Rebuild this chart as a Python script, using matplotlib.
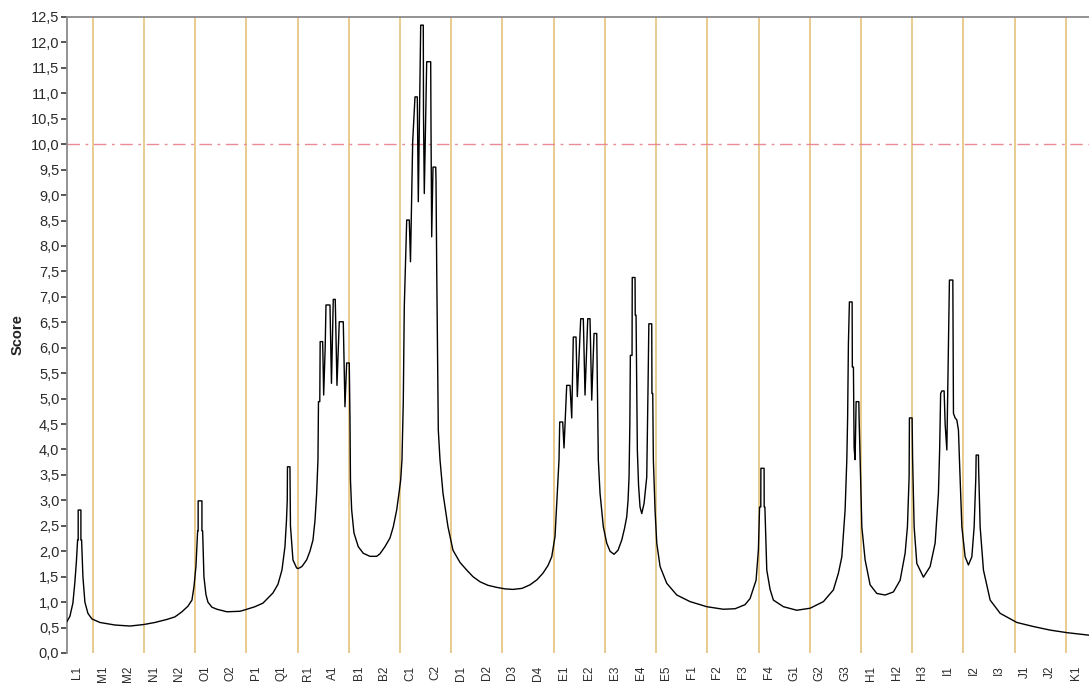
import matplotlib
matplotlib.use('Agg')
import matplotlib.pyplot as plt
import matplotlib.transforms as mtransforms
import numpy as np

# category labels along the x axis (one per unit)
categories = ['L1', 'M1', 'M2', 'N1', 'N2', 'O1', 'O2', 'P1', 'Q1', 'R1',
              'A1', 'B1', 'B2', 'C1', 'C2', 'D1', 'D2', 'D3', 'D4', 'E1',
              'E2', 'E3', 'E4', 'E5', 'F1', 'F2', 'F3', 'F4', 'G1', 'G2',
              'G3', 'H1', 'H2', 'H3', 'I1', 'I2', 'I3', 'J1', 'J2', 'K1']

# categories marked with a tick and a vertical guide line
marked = ['M1', 'N1', 'O1', 'P1', 'R1', 'B1', 'C1', 'D1', 'D3', 'E1',
          'E3', 'E5', 'F2', 'F4', 'G2', 'H1', 'H3', 'I2', 'J1', 'K1']

threshold = 10.0

# score profile (position in category units, score)
pos = [0.000, 0.113, 0.230, 0.309, 0.367, 0.414, 0.437, 0.437, 0.543, 0.543,
       0.570, 0.621, 0.699, 0.816, 0.972, 1.285, 1.871, 2.457, 3.004, 3.433,
       3.902, 4.214, 4.487, 4.722, 4.878, 4.956, 5.034, 5.100, 5.120, 5.120,
       5.268, 5.268, 5.295, 5.346, 5.424, 5.502, 5.659, 5.854, 6.244, 6.752,
       7.025, 7.337, 7.650, 8.040, 8.236, 8.392, 8.509, 8.568, 8.599, 8.607,
       8.704, 8.724, 8.821, 8.966, 9.028, 9.173, 9.356, 9.485, 9.603, 9.681,
       9.747, 9.798, 9.818, 9.869, 9.884, 9.981, 10.021, 10.079, 10.111, 10.267,
       10.325, 10.396, 10.473, 10.540, 10.630, 10.786, 10.852, 10.918, 11.020, 11.047,
       11.067, 11.114, 11.203, 11.371, 11.567, 11.828, 12.090, 12.219, 12.414, 12.609,
       12.738, 12.871, 12.961, 13.027, 13.078, 13.129, 13.168, 13.234, 13.262, 13.363,
       13.410, 13.496, 13.586, 13.676, 13.715, 13.809, 13.910, 13.918, 13.949, 14.043,
       14.199, 14.211, 14.238, 14.289, 14.395, 14.406, 14.434, 14.496, 14.562, 14.679,
       14.874, 15.069, 15.343, 15.605, 15.850, 16.124, 16.436, 16.776, 17.100, 17.413,
       17.764, 18.076, 18.350, 18.584, 18.779, 18.924, 19.053, 19.142, 19.209, 19.236,
       19.353, 19.404, 19.509, 19.638, 19.705, 19.767, 19.873, 19.923, 20.056, 20.158,
       20.224, 20.330, 20.419, 20.486, 20.576, 20.681, 20.743, 20.810, 20.939, 21.072,
       21.201, 21.357, 21.513, 21.658, 21.767, 21.853, 21.904, 21.943, 21.974, 21.994,
       22.060, 22.068, 22.177, 22.185, 22.216, 22.243, 22.267, 22.314, 22.372, 22.439,
       22.529, 22.634, 22.665, 22.685, 22.716, 22.829, 22.837, 22.868, 22.892, 22.958,
       23.025, 23.154, 23.415, 23.806, 24.325, 24.977, 25.625, 26.082, 26.472, 26.668,
       26.902, 26.992, 27.039, 27.086, 27.090, 27.215, 27.219, 27.246, 27.320, 27.449,
       27.578, 27.969, 28.492, 29.012, 29.531, 29.921, 30.117, 30.250, 30.378, 30.445,
       30.476, 30.507, 30.546, 30.652, 30.660, 30.703, 30.730, 30.769, 30.808, 30.914,
       30.925, 30.964, 31.031, 31.159, 31.354, 31.616, 31.940, 32.264, 32.526, 32.721,
       32.811, 32.877, 32.889, 32.994, 33.014, 33.073, 33.178, 33.436, 33.698, 33.893,
       34.022, 34.069, 34.108, 34.155, 34.244, 34.283, 34.350, 34.412, 34.451, 34.584,
       34.596, 34.608, 34.674, 34.740, 34.803, 34.842, 34.936, 35.064, 35.193, 35.326,
       35.416, 35.482, 35.494, 35.584, 35.592, 35.650, 35.779, 36.041, 36.431, 37.083,
       37.731, 38.384, 39.036, 39.906]

score = [0.62, 0.72, 0.98, 1.40, 1.80, 2.22, 2.22, 2.81, 2.81, 2.22,
         2.22, 1.50, 1.00, 0.78, 0.67, 0.60, 0.55, 0.53, 0.56, 0.60,
         0.66, 0.71, 0.81, 0.92, 1.04, 1.30, 1.70, 2.40, 2.40, 2.99,
         2.99, 2.40, 2.40, 1.50, 1.15, 1.00, 0.90, 0.86, 0.81, 0.82,
         0.86, 0.91, 0.98, 1.18, 1.35, 1.63, 2.09, 2.60, 3.00, 3.66,
         3.66, 2.50, 1.83, 1.67, 1.66, 1.70, 1.83, 2.00, 2.22, 2.60,
         3.14, 3.80, 4.94, 4.94, 6.12, 6.12, 5.07, 6.00, 6.84, 6.84,
         5.30, 6.95, 6.95, 5.26, 6.51, 6.51, 4.84, 5.70, 5.70, 4.64,
         3.40, 2.81, 2.36, 2.09, 1.96, 1.90, 1.90, 1.95, 2.09, 2.26,
         2.48, 2.81, 3.14, 3.40, 3.80, 4.94, 6.80, 8.00, 8.51, 8.51,
         7.69, 10.05, 10.93, 10.93, 8.87, 12.34, 12.34, 10.60, 9.03, 11.62,
         11.62, 10.34, 8.18, 9.55, 9.55, 9.30, 7.56, 4.38, 3.80, 3.14,
         2.48, 2.02, 1.78, 1.63, 1.50, 1.40, 1.33, 1.29, 1.26, 1.25,
         1.27, 1.34, 1.44, 1.57, 1.72, 1.89, 2.29, 3.14, 3.80, 4.54,
         4.54, 4.03, 5.26, 5.26, 4.62, 6.21, 6.21, 5.04, 6.57, 6.57,
         5.07, 6.57, 6.57, 4.97, 6.28, 6.28, 3.80, 3.14, 2.48, 2.16,
         2.00, 1.94, 2.02, 2.22, 2.45, 2.68, 3.00, 3.46, 4.50, 5.85,
         5.85, 7.38, 7.38, 6.64, 6.64, 5.17, 3.99, 3.30, 2.87, 2.74,
         2.94, 3.46, 4.50, 5.26, 6.47, 6.47, 5.10, 5.10, 3.80, 2.81,
         2.16, 1.70, 1.37, 1.14, 1.01, 0.91, 0.86, 0.87, 0.95, 1.07,
         1.43, 2.02, 2.87, 2.87, 3.63, 3.63, 2.87, 2.87, 1.63, 1.25,
         1.04, 0.91, 0.84, 0.88, 1.01, 1.24, 1.57, 1.89, 2.81, 3.80,
         4.61, 6.08, 6.90, 6.90, 5.62, 5.62, 4.03, 3.80, 4.94, 4.94,
         4.60, 3.80, 2.48, 1.83, 1.34, 1.17, 1.14, 1.20, 1.43, 1.96,
         2.48, 3.46, 4.62, 4.62, 3.80, 2.48, 1.76, 1.49, 1.70, 2.16,
         3.14, 4.00, 5.10, 5.15, 5.15, 4.50, 3.99, 5.99, 7.33, 7.33,
         5.99, 4.71, 4.62, 4.58, 4.38, 3.80, 2.48, 1.89, 1.73, 1.89,
         2.48, 3.46, 3.89, 3.89, 3.60, 2.48, 1.63, 1.04, 0.78, 0.60,
         0.52, 0.45, 0.40, 0.35]

plt.rcParams['font.family'] = ['Liberation Sans', 'DejaVu Sans']

W, H = 1089, 689
fig = plt.figure(figsize=(W / 100, H / 100), dpi=100)
fig.patch.set_facecolor('white')
ax = fig.add_axes([67 / W, 1 - 653 / H, 1 - 67 / W, (653 - 17) / H])

x_idx = np.arange(len(categories))
mark_idx = [categories.index(c) for c in marked]

for i in mark_idx:
    ax.axvline(i, color='#e2bd72', lw=1.1, zorder=1)

ax.axhline(threshold, color='#ea8a96', lw=1.0, dashes=(9, 4, 2, 4), zorder=2)

ax.plot(pos, score, color='black', lw=1.0, zorder=3)

ax.set_xlim(0, 39.9)
ax.set_ylim(0, 12.5)

yt = np.arange(0, 12.51, 0.5)
ax.set_yticks(yt)
ax.set_yticklabels([f'{v:.1f}'.replace('.', ',') for v in yt])
ax.tick_params(axis='y', length=4, width=1.1, pad=1.5, labelsize=10.5,
               colors='#2a2a2a')

ax.set_xticks(x_idx)
ax.set_xticklabels(categories, rotation=90, fontsize=8.5, color='#2a2a2a')
ax.set_xticks([0] + mark_idx, minor=True)
ax.tick_params(axis='x', which='major', length=0, pad=9)
ax.tick_params(axis='x', which='minor', length=7, width=1.3, color='#333333')

# labels sit a little right of their positions, as in the original
offset = mtransforms.ScaledTranslation(10 / 100, 0, fig.dpi_scale_trans)
for lbl in ax.get_xticklabels():
    lbl.set_transform(lbl.get_transform() + offset)

for side in ['right', 'bottom']:
    ax.spines[side].set_visible(False)
for side in ['left', 'top']:
    ax.spines[side].set_color('#8a8a8a')
    ax.spines[side].set_linewidth(1.3)

fig.text(18 / W, 1 - 335 / H, 'Score', rotation=90, ha='center', va='center',
         fontsize=10.5, fontweight='bold', color='#222222')

fig.savefig('out.png', dpi=100)
